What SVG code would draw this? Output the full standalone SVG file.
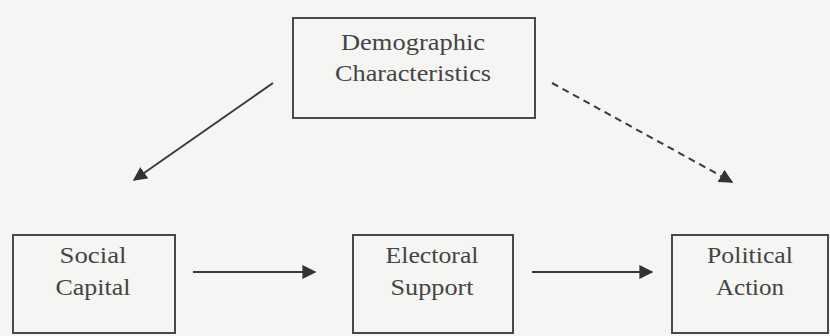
<svg xmlns="http://www.w3.org/2000/svg" width="830" height="336" viewBox="0 0 830 336">
<style>
.box{fill:none;stroke:#4a4a4a;stroke-width:2}
.t{font-family:"Liberation Serif","Times New Roman",serif;font-size:24px;fill:#444;text-anchor:middle}
.c{stroke:#3a3a3a;stroke-width:2;fill:none}
.d{stroke-dasharray:7,5}
</style>
<defs>
<marker id="ah" viewBox="0 0 10 10" refX="9" refY="5" markerWidth="7" markerHeight="7" orient="auto" markerUnits="strokeWidth">
<path d="M0,0 L10,5 L0,10 Z" fill="#333"/>
</marker>
</defs>
<rect width="830" height="336" fill="#f5f5f3"/>
<g id="demographic">
<rect class="box" x="293" y="18" width="242" height="100"/>
<text class="t" x="413" y="50" textLength="144" lengthAdjust="spacingAndGlyphs">Demographic</text>
<text class="t" x="413" y="81" textLength="156" lengthAdjust="spacingAndGlyphs">Characteristics</text>
</g>
<g id="social">
<rect class="box" x="13" y="235" width="162" height="98"/>
<text class="t" x="93" y="263" textLength="67" lengthAdjust="spacingAndGlyphs">Social</text>
<text class="t" x="93" y="295" textLength="75" lengthAdjust="spacingAndGlyphs">Capital</text>
</g>
<g id="electoral">
<rect class="box" x="353" y="235" width="160" height="98"/>
<text class="t" x="432" y="263" textLength="93" lengthAdjust="spacingAndGlyphs">Electoral</text>
<text class="t" x="432" y="295" textLength="83" lengthAdjust="spacingAndGlyphs">Support</text>
</g>
<g id="political">
<rect class="box" x="672" y="235" width="156" height="98"/>
<text class="t" x="750" y="263" textLength="86" lengthAdjust="spacingAndGlyphs">Political</text>
<text class="t" x="750" y="295" textLength="68" lengthAdjust="spacingAndGlyphs">Action</text>
</g>
<g id="connectors">
<line class="c" x1="273" y1="83" x2="134" y2="180" marker-end="url(#ah)"/>
<line class="c d" x1="552" y1="83" x2="732" y2="182" marker-end="url(#ah)"/>
<line class="c" x1="193" y1="272" x2="315" y2="272" marker-end="url(#ah)"/>
<line class="c" x1="532" y1="272" x2="652" y2="272" marker-end="url(#ah)"/>
</g>
</svg>
